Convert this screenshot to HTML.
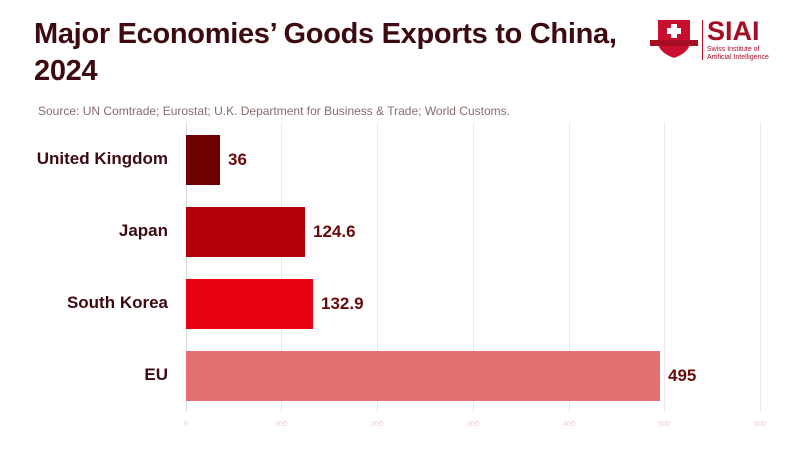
<!DOCTYPE html>
<html><head><meta charset="utf-8"><style>
body{margin:0;width:800px;height:450px;background:#fff;overflow:hidden;font-family:"Liberation Sans",sans-serif;position:relative}
.t{position:absolute;left:34px;top:16px;font-size:29px;font-weight:bold;color:#3d0a10;line-height:37px;letter-spacing:-0.3px}
.s{position:absolute;left:38px;top:104px;font-size:12px;color:#8a6a6a}
.g{position:absolute;top:122px;width:1px;height:290px;background:#f6e4e6}
.tk{position:absolute;top:421px;font-size:7px;color:#f2c8cc;transform:translateX(-50%)}
.b{position:absolute;left:186px;height:50px}
.l{position:absolute;right:632px;font-size:17px;font-weight:bold;color:#3d0a10}
.v{position:absolute;font-size:17px;font-weight:bold;color:#6a0a0a}
</style></head><body>
<div class="t">Major Economies’ Goods Exports to China,<br>2024</div>
<div class="s">Source: UN Comtrade; Eurostat; U.K. Department for Business &amp; Trade; World Customs.</div>
<svg style="position:absolute;left:648px;top:18px" width="52" height="42"><path d="M10 2h32v22q0 10-16 16q-16-6-16-16z" fill="#c8102e"/><rect x="2" y="22" width="48" height="6" fill="#a50d24"/><rect x="23" y="6" width="6" height="14" fill="#fff"/><rect x="19" y="10" width="14" height="6" fill="#fff"/></svg>
<div style="position:absolute;left:702px;top:20px;width:1px;height:40px;background:#c8102e"></div>
<div style="position:absolute;left:707px;top:16px;font-size:27px;font-weight:bold;color:#a50d24;line-height:30px">SIAI</div>
<div style="position:absolute;left:707px;top:46px;font-size:7px;color:#a50d24;line-height:8px">Swiss Institute of<br>Artificial Intelligence</div>
<div class="g" style="left:186px;background:#ddd"></div><div class="g" style="left:281px"></div><div class="g" style="left:377px"></div><div class="g" style="left:473px"></div><div class="g" style="left:569px"></div><div class="g" style="left:664px"></div><div class="g" style="left:760px"></div>
<div class="tk" style="left:186px">0</div><div class="tk" style="left:281px">100</div><div class="tk" style="left:377px">200</div><div class="tk" style="left:473px">300</div><div class="tk" style="left:569px">400</div><div class="tk" style="left:664px">500</div><div class="tk" style="left:760px">600</div>
<div class="b" style="top:135px;width:34px;background:#6e0000"></div>
<div class="b" style="top:207px;width:119px;background:#b30008"></div>
<div class="b" style="top:279px;width:127px;background:#e60012"></div>
<div class="b" style="top:351px;width:474px;background:#e57070"></div>
<div class="l" style="top:149px">United Kingdom</div>
<div class="l" style="top:221px">Japan</div>
<div class="l" style="top:293px">South Korea</div>
<div class="l" style="top:365px">EU</div>
<div class="v" style="left:228px;top:150px">36</div>
<div class="v" style="left:313px;top:222px">124.6</div>
<div class="v" style="left:321px;top:294px">132.9</div>
<div class="v" style="left:668px;top:366px">495</div>
</body></html>
